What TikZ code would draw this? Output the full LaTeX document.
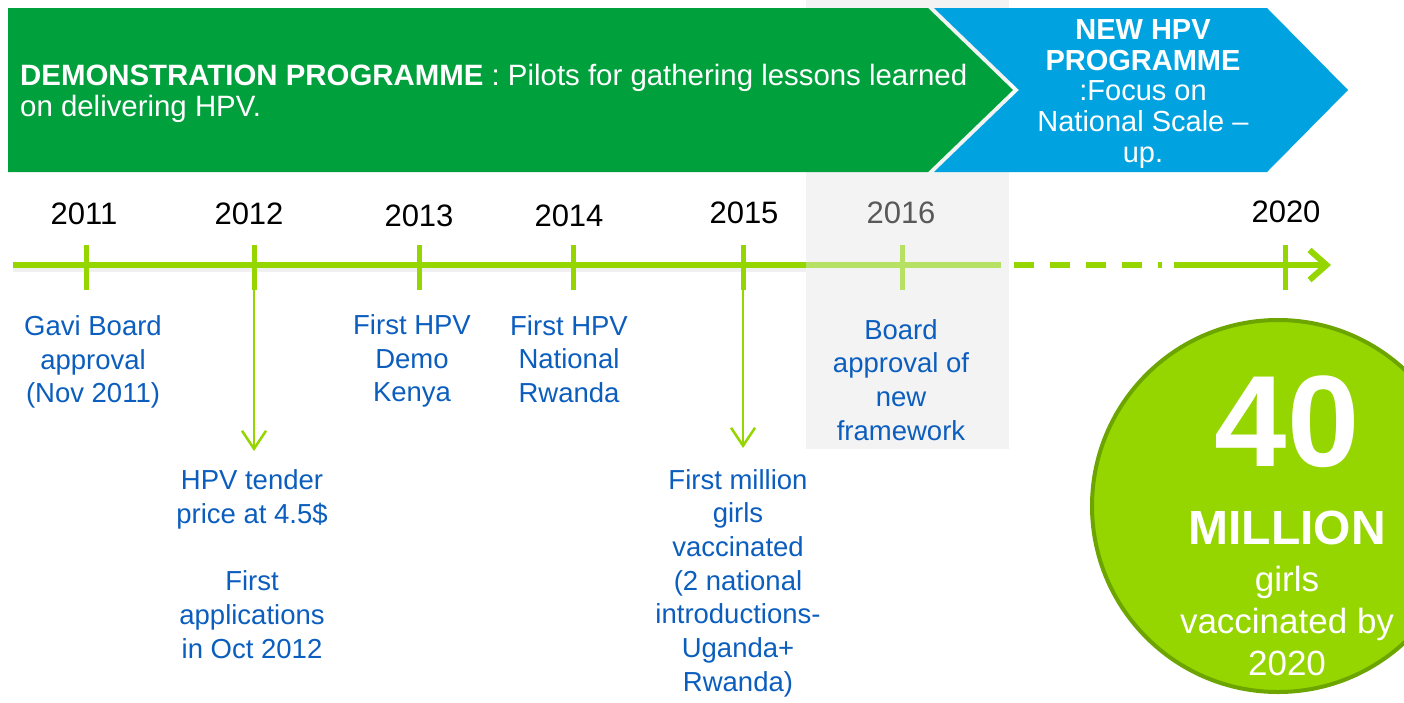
\documentclass[tikz,border=0pt]{standalone}
\usepackage{fontspec}
\setmainfont{Liberation Sans}
\usetikzlibrary{arrows.meta}

\definecolor{demogreen}{RGB}{0,160,60}
\definecolor{newblue}{RGB}{0,163,224}
\definecolor{lime}{RGB}{149,213,0}
\definecolor{limefade}{RGB}{183,225,100}
\definecolor{limedark}{RGB}{108,165,0}
\definecolor{eventblue}{RGB}{12,94,190}
\definecolor{panelgray}{RGB}{243,243,243}
\definecolor{yeargray}{RGB}{89,89,89}

\begin{document}
\begin{tikzpicture}[x=1pt,y=-1pt,
  year/.style={font=\fontsize{31}{36}\selectfont, text=black, inner sep=0pt},
  event/.style={font=\fontsize{27.5}{33.7}\selectfont, text=eventblue, align=center, inner sep=0pt},
  banner/.style={font=\fontsize{29.4}{31}\selectfont, text=white, inner sep=0pt},
  axis/.style={line width=6pt, draw=lime},
  axisshadow/.style={line width=6pt, draw=black, opacity=0.06},
  tickmark/.style={line width=5pt, draw=lime},
  drop/.style={line width=2.5pt, draw=lime, -{Straight Barb[length=18pt,width=24pt]}},
  circtext/.style={text=white, align=center, inner sep=0pt}
]
\clip (0,0) rectangle (1404,702);
\fill[white] (0,0) rectangle (1404,702);

% highlighted 2016 panel
\fill[panelgray] (806,0) rectangle (1009,449);

% programme banners
\fill[newblue] (934,8) -- (1267,8) -- (1348,90) -- (1267,172) -- (934,172) -- (1019,90) -- cycle;
\fill[demogreen] (8,8) -- (928,8) -- (1013,90) -- (928,172) -- (8,172) -- cycle;

\node[banner, anchor=west, align=left] (demo) at (20,93)
  {\textbf{DEMONSTRATION PROGRAMME} : Pilots for gathering lessons learned\\on delivering HPV.};
\node[banner, align=center, font=\fontsize{29}{30.8}\selectfont] (newprog) at (1143,94)
  {\textbf{NEW HPV}\\\textbf{PROGRAMME}\\:Focus on\\National Scale –\\up.};

% timeline axis
\coordinate (axstart) at (13,265);
\coordinate (axfade) at (806,265);
\coordinate (axfadeend) at (1001,265);
\coordinate (dashstart) at (1014,265);
\coordinate (dashend) at (1162,265);
\coordinate (axresume) at (1174,265);
\coordinate (axtip) at (1331,265);

\draw[axisshadow] ([yshift=-4pt]axstart) -- ([yshift=-4pt]axfade);
\draw[axis] (axstart) -- (axfade);
\draw[axis, draw=limefade] (axfade) -- (axfadeend);
\draw[axis, dash pattern=on 20pt off 16pt] (dashstart) -- (dashend);
\draw[axis, -{Straight Barb[length=17pt,width=30pt]}] (axresume) -- (axtip);

% tick marks
\foreach \name/\x in {t2011/86, t2012/254, t2013/419, t2014/573, t2015/743, t2020/1285}{
  \coordinate (\name top) at (\x,245);
  \coordinate (\name bot) at (\x,290);
  \draw[tickmark] (\name top) -- (\name bot);
}
\coordinate (t2016top) at (902,245);
\coordinate (t2016bot) at (902,290);
\draw[tickmark, draw=limefade] (t2016top) -- (t2016bot);

% year labels
\node[year] (y2011) at (84,214) {2011};
\node[year] (y2012) at (249,214) {2012};
\node[year] (y2013) at (419,216) {2013};
\node[year] (y2014) at (569,216) {2014};
\node[year] (y2015) at (744,213) {2015};
\node[year, text=yeargray] (y2016) at (901,213) {2016};
\node[year] (y2020) at (1286,212) {2020};

% events above the drop lines
\node[event] (gavi) at (93,362) {Gavi Board\\approval\\(Nov 2011)};
\node[event] (kenya) at (412,361) {First HPV\\Demo\\Kenya};
\node[event] (rwanda) at (569,359) {First HPV\\National\\Rwanda};
\node[event] (framework) at (901,380) {Board\\approval of\\new\\framework};

% events reached by drop arrows
\node[event] (tender) at (252,564) {HPV tender\\price at 4.5\$\\~\\First\\applications\\in Oct 2012};
\node[event] (million) at (738,583) {First million\\girls\\vaccinated\\(2 national\\introductions-\\Uganda+\\Rwanda)};

\coordinate (drop2012) at (254,451);
\coordinate (drop2015) at (743,448);
\draw[drop] (t2012bot) -- (drop2012);
\draw[drop] (t2015bot) -- (drop2015);

% target badge
\node[circle, fill=lime, draw=limedark, line width=4pt, minimum size=372pt, inner sep=0pt] (badge) at (1278,506) {};
\node[circtext, font=\fontsize{130}{130}\bfseries\selectfont] (forty) at (1287,422) {40};
\node[circtext, font=\fontsize{48}{50}\bfseries\selectfont] (millionword) at (1287,528) {MILLION};
\node[circtext, font=\fontsize{35}{42}\selectfont] (girlsby) at (1287,621) {girls\\vaccinated by\\2020};
\end{tikzpicture}
\end{document}
